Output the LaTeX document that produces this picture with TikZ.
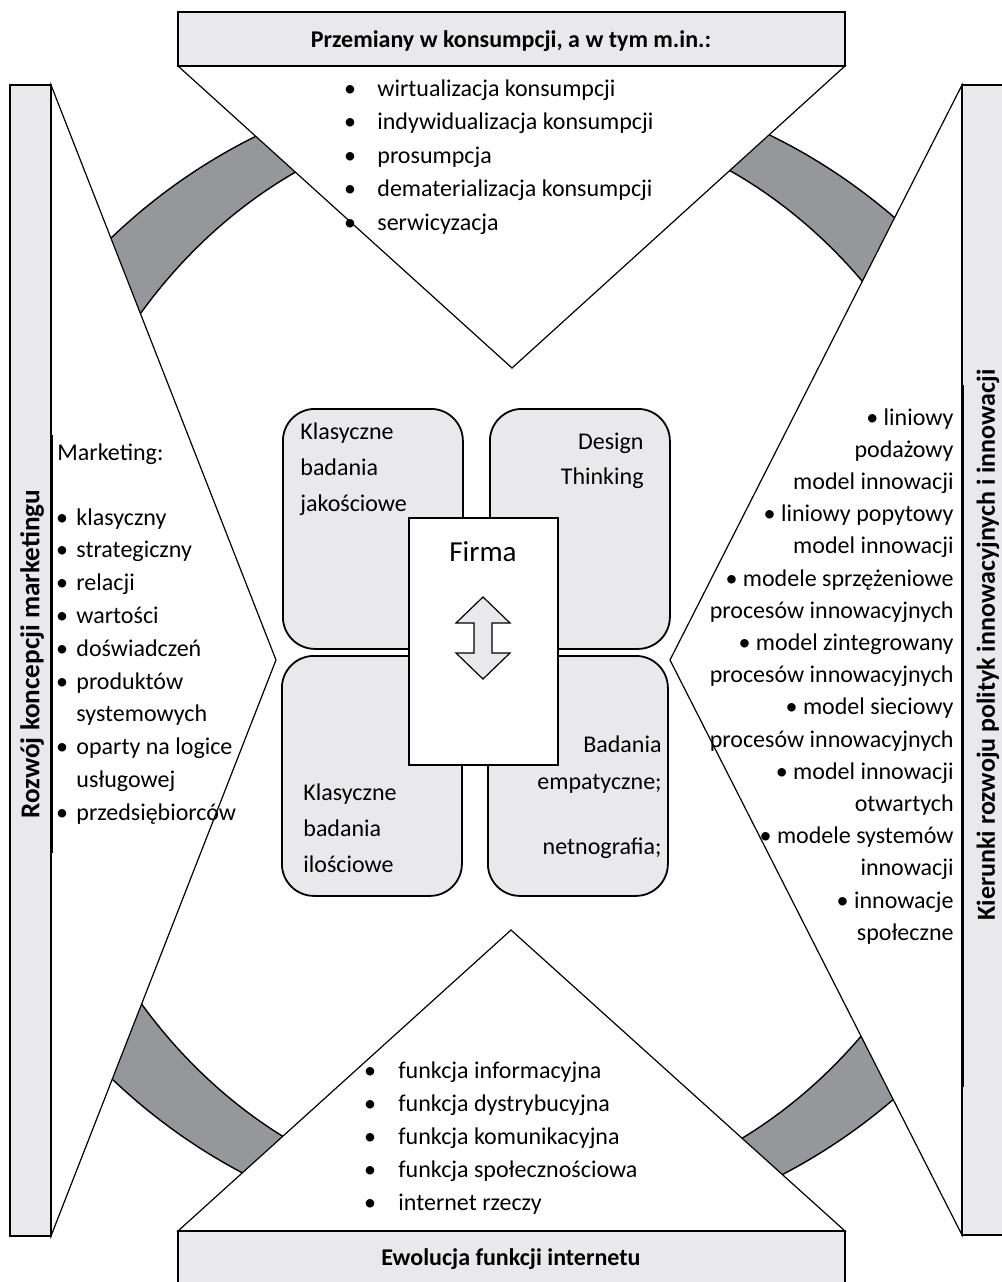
\documentclass[tikz,border=0pt]{standalone}
\usepackage{fontspec}
\setmainfont{Carlito}
\definecolor{boxgray}{RGB}{233,233,235}
\definecolor{bandgray}{RGB}{150,151,155}
\begin{document}
\begin{tikzpicture}[x=0.5pt,y=-0.5pt,
  txt/.style={inner sep=0pt, font=\fontsize{12}{14}\selectfont},
  boldtxt/.style={inner sep=0pt, font=\fontsize{12}{14}\selectfont\bfseries},
  graybox/.style={fill=boxgray, draw=black, line width=0.8pt},
  wedge/.style={fill=white, draw=black, line width=0.6pt},
  band/.style={fill=bandgray, draw=black, line width=0.7pt},
  quad/.style={fill=boxgray, draw=black, line width=0.9pt, rounded corners=16pt,
    minimum width=90pt, minimum height=120pt, anchor=north west, inner sep=0pt},
]
\useasboundingbox (0,0) rectangle (1002,1282);
\fill[white] (0,0) rectangle (1002,1282);

% ring bands
\begin{scope}
  \clip (51,66) rectangle (962,1231);
  \path[band, even odd rule] (514,658) circle[radius=291pt]
        (514,658) ellipse[x radius=241pt, y radius=272.5pt];
\end{scope}

% triangles
\draw[wedge] (178,66) -- (845,66) -- (512,368) -- cycle;
\draw[wedge] (178,1231) -- (845,1231) -- (511,930) -- cycle;
\draw[wedge] (51,85) -- (51,1236) -- (276,660) -- cycle;
\draw[wedge] (962,85) -- (962,1235) -- (670,660) -- cycle;

% outer boxes
\draw[graybox] (178,12) rectangle (845,66);
\draw[graybox] (178,1231) rectangle (845,1295);
\draw[graybox] (10,85) rectangle (51,1236);
\draw[graybox] (962,85) rectangle (1010,1235);
\draw[line width=1.5pt] (51,435) -- (51,853);
\draw[line width=1.2pt] (10,220) -- (10,1090);
\draw[line width=1.5pt] (962,385) -- (962,1087);

% headers
\node[boldtxt, anchor=base] (tophead) at (511,47) {Przemiany w konsumpcji, a w tym m.in.:};
\node[boldtxt, anchor=base] (bothead) at (511,1265) {Ewolucja funkcji internetu};
\node[inner sep=0pt, font=\fontsize{13.6}{15}\selectfont\bfseries, rotate=90] (lefthead) at (32,654) {Rozwój koncepcji marketingu};
\node[inner sep=0pt, font=\fontsize{13}{15}\selectfont\bfseries, rotate=90] (righthead) at (988,645) {Kierunki rozwoju polityk innowacyjnych i innowacji};

% top list
\foreach \t [count=\i] in {wirtualizacja konsumpcji, indywidualizacja konsumpcji, prosumpcja, dematerializacja konsumpcji, serwicyzacja}{
  \node[txt, anchor=base] (tb\i) at (350,{96+(\i-1)*33.5}) {\textbullet};
  \node[txt, anchor=base west] (tt\i) at (377,{96+(\i-1)*33.5}) {\t};
}
% bottom list
\foreach \t [count=\i] in {funkcja informacyjna, funkcja dystrybucyjna, funkcja komunikacyjna, funkcja społecznościowa, internet rzeczy}{
  \node[txt, anchor=base] (bb\i) at (370,{1078+(\i-1)*33}) {\textbullet};
  \node[txt, anchor=base west] (bt\i) at (398,{1078+(\i-1)*33}) {\t};
}
% left list
\node[txt, anchor=base west] (mk) at (57,460) {Marketing:};
\foreach \t/\b [count=\i] in {klasyczny/1, strategiczny/1, relacji/1, wartości/1, doświadczeń/1, produktów/1, systemowych/0, oparty na logice/1, usługowej/0, przedsiębiorców/1}{
  \node[txt, anchor=base west] (lt\i) at (76,{525+(\i-1)*32.8}) {\t};
  \ifnum\b=1 \node[txt, anchor=base] (lb\i) at (62,{525+(\i-1)*32.8}) {\textbullet};\fi
}
% right list
\foreach \t [count=\i] in {\textbullet\ liniowy, podażowy, model innowacji, \textbullet\ liniowy popytowy, model innowacji, \textbullet\ modele sprzężeniowe, procesów innowacyjnych, \textbullet\ model zintegrowany, procesów innowacyjnych, \textbullet\ model sieciowy, procesów innowacyjnych, \textbullet\ model innowacji, otwartych, \textbullet\ modele systemów, innowacji, \textbullet\ innowacje, społeczne}{
  \node[txt, anchor=base east] (rt\i) at (954,{425+(\i-1)*32.2}) {\t};
}

% centre quadrants
\node[quad] (q1) at (282,408) {};
\node[quad] (q2) at (489,408) {};
\node[quad] (q3) at (281,655) {};
\node[quad] (q4) at (487,655) {};

\foreach \t [count=\i] in {Klasyczne, badania, jakościowe}{
  \node[txt, anchor=base west] (q1t\i) at (300,{439+(\i-1)*36}) {\t};
}
\foreach \t [count=\i] in {Design, Thinking}{
  \node[txt, anchor=base east] (q2t\i) at (644,{449+(\i-1)*35}) {\t};
}
\node[txt, anchor=base west] (q3t1) at (303,800) {Klasyczne};
\node[txt, anchor=base west] (q3t2) at (303,836) {badania};
\node[txt, anchor=base west] (q3t3) at (303,872) {ilościowe};
\node[txt, anchor=base east] (q4t1) at (662,752) {Badania};
\node[txt, anchor=base east] (q4t2) at (662,789) {empatyczne;};
\node[txt, anchor=base east] (q4t3) at (662,854) {netnografia;};

% firm
\node[draw=black, fill=white, line width=0.9pt, minimum width=74.5pt, minimum height=123.5pt,
      anchor=north west, inner sep=0pt] (firma) at (408,517) {};
\node[inner sep=0pt, font=\fontsize{14.5}{16}\selectfont, anchor=base] (firmat) at (483,561) {Firma};
\draw[fill=boxgray, draw=black, line width=0.6pt]
  (483,597) -- (510,623) -- (492,623) -- (492,653) -- (510,653) -- (483,679)
  -- (456,653) -- (474,653) -- (474,623) -- (456,623) -- cycle;
\end{tikzpicture}
\end{document}
